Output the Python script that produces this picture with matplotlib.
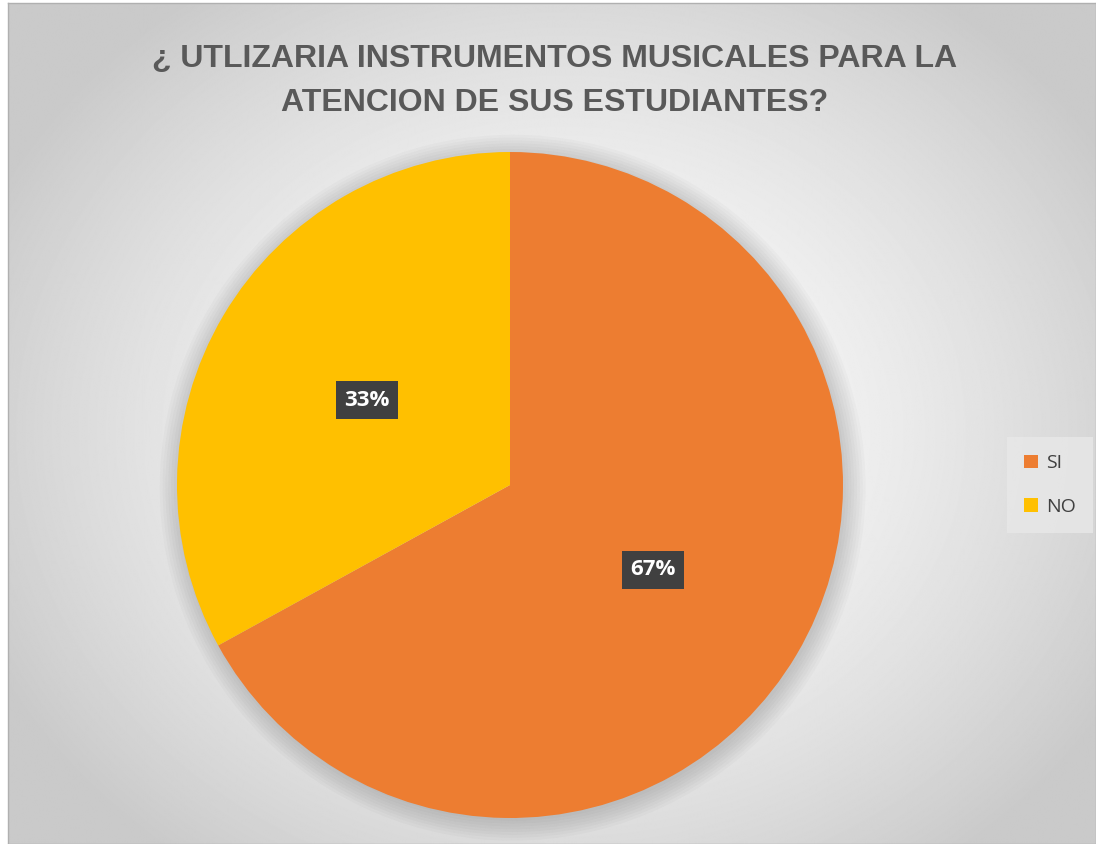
import numpy as np
import matplotlib.pyplot as plt
from matplotlib.patches import Circle

categorias = ['SI', 'NO']
valores = [67, 33]
colores = ['#ED7D31', '#FFC000']
titulo = '¿ UTLIZARIA INSTRUMENTOS MUSICALES PARA LA\nATENCION DE SUS ESTUDIANTES?'

W, H = 1096, 844
fig = plt.figure(figsize=(W / 100, H / 100), dpi=100)
fig.patch.set_facecolor('white')

# fondo con degradado radial
bg = fig.add_axes([8 / W, 0, 1 - 8 / W, 1 - 3 / H])
yy, xx = np.mgrid[0:H, 0:W]
d = np.sqrt(((xx - 560) / 640) ** 2 + ((yy - 430) / 540) ** 2)
d = np.clip(d, 0, 1)
shade = 1.0 - 0.21 * d ** 1.5
bg.imshow(shade, cmap='gray', vmin=0, vmax=1, aspect='auto', extent=[0, 1, 0, 1])
bg.set_xticks([])
bg.set_yticks([])
for s in bg.spines.values():
    s.set_color('#b0b0b0')
    s.set_linewidth(1)

ax = fig.add_axes([177 / W, 1 - 818 / H, 666 / W, 666 / H])
ax.axis('off')

# sombra suave
for r in np.linspace(1.06, 1.0, 8):
    ax.add_patch(Circle((0.008, -0.008), r, color='black', alpha=0.02, lw=0,
                        zorder=0, clip_on=False))

wedges, _, autotexts = ax.pie(valores, colors=colores, startangle=90, counterclock=False,
                              autopct='%1.0f%%', pctdistance=0.5, radius=1,
                              wedgeprops=dict(linewidth=0),
                              textprops=dict(color='white', fontsize=16, fontweight='bold',
                                             family='Open Sans'))
ax.set_xlim(-1, 1)
ax.set_ylim(-1, 1)
for t in autotexts:
    t.set_bbox(dict(boxstyle='square,pad=0.38', facecolor='#404040', edgecolor='none'))
    t.set_zorder(5)

fig.text(555 / W, 1 - 81 / H, titulo, ha='center', va='center', fontsize=23,
         fontweight='bold', color='#595959', family='Liberation Sans', linespacing=1.6)

leg = fig.legend(wedges, categorias, loc='center', bbox_to_anchor=(1050 / W, 1 - 485 / H),
                 frameon=True, handlelength=0.7, handleheight=0.7,
                 labelspacing=1.3, handletextpad=0.4, borderpad=0.9, fancybox=False,
                 prop=dict(family='Open Sans', size=14))
leg.get_frame().set_facecolor('#e8e8e8')
leg.get_frame().set_edgecolor('none')
for t in leg.get_texts():
    t.set_color('#404040')

fig.savefig('out.png', dpi=100)
